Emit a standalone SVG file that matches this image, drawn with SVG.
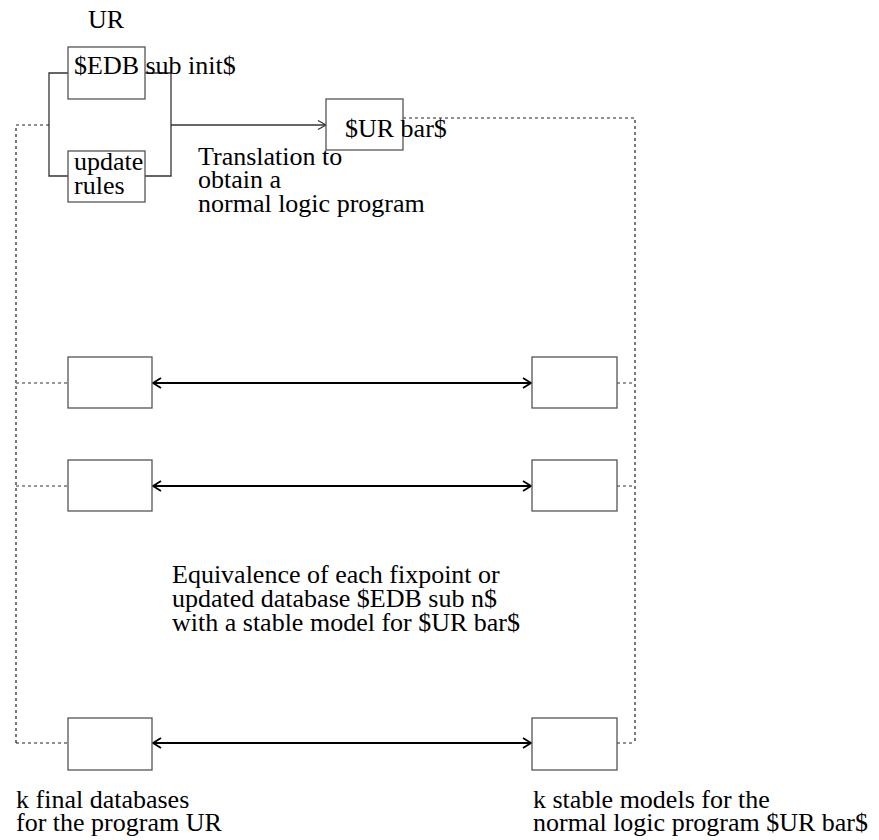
<svg xmlns="http://www.w3.org/2000/svg" width="879" height="840" viewBox="0 0 879 840">
<style>
text{font-family:"Liberation Serif","Times New Roman",serif;font-size:26px;fill:#000}
.box{fill:#fff;stroke:#555;stroke-width:1.3}
.ln{fill:none;stroke:#333;stroke-width:1.3}
.arr{fill:none;stroke:#000;stroke-width:2}
.dash{fill:none;stroke:#222;stroke-width:1.2;stroke-dasharray:3,3}
.gdash{fill:none;stroke:#777;stroke-width:1.3;stroke-dasharray:3,3}
</style>
<defs>
<marker id="ah" markerWidth="12" markerHeight="12" refX="10" refY="6" orient="auto-start-reverse" markerUnits="userSpaceOnUse">
<path d="M2,1 L10,6 L2,11" fill="none" stroke="#000" stroke-width="1.8"/>
</marker>
<marker id="ah2" markerWidth="12" markerHeight="12" refX="10" refY="6" orient="auto" markerUnits="userSpaceOnUse">
<path d="M2,1.5 L10,6 L2,10.5" fill="none" stroke="#333" stroke-width="1.2"/>
</marker>
</defs>
<g id="connectors">
<path class="ln" d="M68,73 H49 V176 H68"/>
<path class="ln" d="M145,73 H171 V176 H145"/>
<path class="ln" d="M171,125 H326" marker-end="url(#ah2)"/>
<path class="dash" d="M49,125 H16 V743"/>
<path class="dash" d="M403,118 H635 V743"/>
<path class="gdash" d="M16,383 H68"/>
<path class="gdash" d="M617,383 H635"/>
<path class="gdash" d="M16,486 H68"/>
<path class="gdash" d="M617,486 H635"/>
<path class="dash" d="M16,743 H68"/>
<path class="dash" d="M617,743 H635"/>
<path class="arr" d="M153,383 H531" marker-start="url(#ah)" marker-end="url(#ah)"/>
<path class="arr" d="M153,486 H531" marker-start="url(#ah)" marker-end="url(#ah)"/>
<path class="arr" d="M153,743 H531" marker-start="url(#ah)" marker-end="url(#ah)"/>
</g>
<g id="ur-label"><text x="88" y="28">UR</text></g>
<g id="edb-init"><rect class="box" x="68" y="47" width="77" height="52"/><text x="74" y="74">$EDB sub init$</text></g>
<g id="update-rules"><rect class="box" x="68" y="151" width="77" height="51"/><text x="74" y="170">update</text><text x="74" y="194">rules</text></g>
<g id="ur-bar"><rect class="box" x="326" y="99" width="77" height="51"/><text x="345" y="137">$UR bar$</text></g>
<g id="translation-label"><text x="198" y="165">Translation to</text><text x="198" y="188">obtain a</text><text x="198" y="212">normal logic program</text></g>
<g id="db1"><rect class="box" x="68" y="357" width="84" height="51"/></g>
<g id="sm1"><rect class="box" x="532" y="357" width="85" height="51"/></g>
<g id="db2"><rect class="box" x="68" y="460" width="84" height="51"/></g>
<g id="sm2"><rect class="box" x="532" y="460" width="85" height="51"/></g>
<g id="dbk"><rect class="box" x="68" y="718" width="84" height="52"/></g>
<g id="smk"><rect class="box" x="532" y="718" width="85" height="52"/></g>
<g id="equivalence-label"><text x="172" y="583">Equivalence of each fixpoint or</text><text x="172" y="607">updated database $EDB sub n$</text><text x="172" y="631">with a stable model for $UR bar$</text></g>
<g id="final-db-label"><text x="16" y="808">k final databases</text><text x="16" y="831">for the program UR</text></g>
<g id="stable-label"><text x="533" y="808">k stable models for the</text><text x="533" y="831">normal logic program $UR bar$</text></g>
</svg>
